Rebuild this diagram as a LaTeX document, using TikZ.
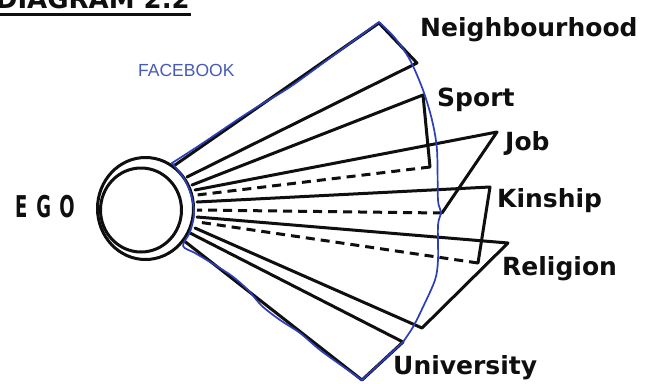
\documentclass[tikz,border=0pt]{standalone}
\usepackage{fontspec}
\usepackage{graphicx}
\newfontfamily\lbl{DejaVu Sans}
\newfontfamily\fb{Liberation Sans}
\definecolor{fbblue}{RGB}{45,62,185}
\definecolor{fbtext}{RGB}{70,90,185}
\definecolor{ink}{RGB}{15,15,15}
\newcommand{\cond}[1]{\scalebox{0.6}[1]{#1}}
\begin{document}
\begin{tikzpicture}[x=1pt,y=-1pt,
  ray/.style={line width=3pt, draw=ink, line cap=round, line join=round},
  dray/.style={ray, dash pattern=on 9pt off 6pt, line cap=butt},
  lab/.style={anchor=base west, inner sep=0pt, text=ink, font=\lbl\bfseries\fontsize{25}{25}\selectfont},
  contour/.style={line width=1.7pt, draw=fbblue, line cap=round, line join=round}]
\useasboundingbox (0,0) rectangle (647,383);
\clip (0,0) rectangle (647,383);
\fill[white] (0,0) rectangle (647,383);

% title (cut off at the top, as in the reference)
\node[anchor=base east, inner sep=0pt, text=ink, font=\lbl\bfseries\fontsize{26}{26}\selectfont] (title) at (190,8) {DIAGRAM 2.2};
\draw[line width=3pt, draw=ink] (0,14) -- (191,14);

% ego circles
\draw[line width=3pt, draw=ink] (145.5,208.5) ellipse [x radius=48, y radius=51];
\draw[line width=3pt, draw=ink] (141,210) ellipse [x radius=40.5, y radius=42];
\node[anchor=base west, inner sep=0pt, text=ink, font=\lbl\bfseries\fontsize{30}{30}\selectfont] (ego) at (15,217) {\cond{E}\hspace{9pt}\cond{G}\hspace{8pt}\cond{O}};

% coordinates
\coordinate (n1) at (175,165); \coordinate (nt) at (379,23); \coordinate (nc) at (417,63); \coordinate (n2) at (187,177);
\coordinate (s1) at (192,185); \coordinate (st) at (423,95); \coordinate (sc) at (430,167); \coordinate (s2) at (197,195);
\coordinate (j1) at (195,190); \coordinate (jt) at (497,132); \coordinate (jc) at (442,213); \coordinate (j2) at (197,210);
\coordinate (k1) at (197,202); \coordinate (kt) at (490,187); \coordinate (kc) at (478,263); \coordinate (k2) at (198,222);
\coordinate (r1) at (197,217); \coordinate (rt) at (508,243); \coordinate (rc) at (422,328); \coordinate (r2) at (195,228);
\coordinate (u1) at (190,233); \coordinate (ut) at (403,342); \coordinate (uc) at (362,380); \coordinate (u2) at (183,240);

% wedges
\draw[ray] (n1) -- (nt) -- (nc) -- (n2);
\draw[ray] (s1) -- (st) -- (sc); \draw[dray] (sc) -- (s2);
\draw[ray] (j1) -- (jt) -- (jc); \draw[dray] (jc) -- (j2);
\draw[ray] (k1) -- (kt) -- (kc); \draw[dray] (kc) -- (k2);
\draw[ray] (r1) -- (rt) -- (rc) -- (r2);
\draw[ray] (u1) -- (ut) -- (uc) -- (u2);

% labels
\node[lab] (lN) at (420,36) {Neighbourhood};
\node[lab] (lS) at (437,106) {Sport};
\node[lab] (lJ) at (505,150) {Job};
\node[lab] (lK) at (497,207) {Kinship};
\node[lab] (lR) at (502,275) {Religion};
\node[lab] (lU) at (393,374) {University};

% facebook contour
\node[anchor=base west, inner sep=0pt, text=fbtext, font=\fb\fontsize{17.5}{17.5}\selectfont] (fbl) at (138,76) {FACEBOOK};
\draw[contour] plot[smooth, tension=0.5] coordinates {(172,163) (200,145) (240,118) (262,104) (290,87) (330,58) (379,22)};
\draw[contour] plot[smooth, tension=0.5] coordinates {(379,22) (395,38) (410,60) (423,90) (432,120) (437,150) (438,200) (441,212) (438,225) (438,260) (435,280) (423,307) (413,327) (403,342)};
\draw[contour] (403,342) -- (362,380);
\draw[contour] plot[smooth, tension=0.5] coordinates {(362,380) (345,368) (320,350) (300,333) (280,320) (262,306) (248,290) (232,276) (210,262) (195,253) (183,246) (190,232) (194,215) (192,198) (185,180) (172,163)};
\end{tikzpicture}
\end{document}
